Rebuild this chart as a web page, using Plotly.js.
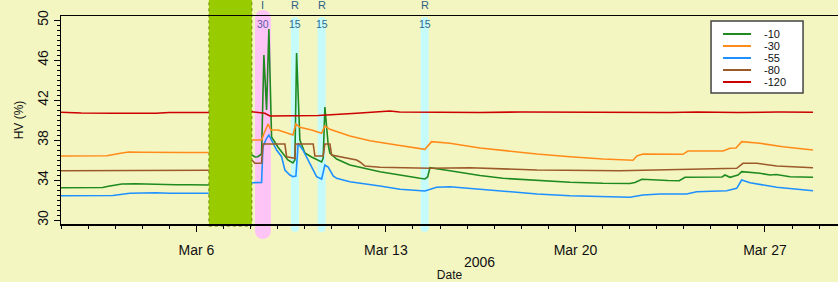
<!DOCTYPE html>
<html>
<head>
<meta charset="utf-8">
<script src="https://cdn.plot.ly/plotly-3.0.1.min.js"></script>
<style>html,body{margin:0;padding:0;background:#F4F6C1;}#chart{width:838px;height:282px;}</style>
</head>
<body>
<div id="chart"></div>
<script>
// ---- data (HV %, by date) ----
const seriesNames = ["-10", "-30", "-55", "-80", "-120"];

const t10 = ["2006-03-01 00:00","2006-03-01 12:00","2006-03-02 13:00","2006-03-02 18:00","2006-03-03 06:00","2006-03-03 18:00","2006-03-04 06:00","2006-03-04 18:00","2006-03-05 06:00","2006-03-05 18:00","2006-03-06 11:00","2006-03-07 00:00",
 "2006-03-08 01:12","2006-03-08 04:00","2006-03-08 06:30","2006-03-08 09:48","2006-03-08 11:50","2006-03-08 14:14","2006-03-08 16:16","2006-03-08 18:40","2006-03-09 00:16","2006-03-09 09:07","2006-03-09 13:33","2006-03-09 15:20","2006-03-09 16:50","2006-03-09 19:45","2006-03-10 00:11","2006-03-10 06:08","2006-03-10 15:00","2006-03-10 16:25","2006-03-10 17:55","2006-03-10 20:51","2006-03-10 22:22","2006-03-11 04:18","2006-03-11 16:06","2006-03-12 18:42","2006-03-14 06:10","2006-03-14 10:36","2006-03-14 13:00","2006-03-14 15:02","2006-03-15 08:46","2006-03-16 11:21","2006-03-17 07:45","2006-03-18 13:54","2006-03-19 19:09","2006-03-21 00:24","2006-03-22 00:20","2006-03-22 04:46","2006-03-22 10:58","2006-03-23 10:02","2006-03-23 20:00","2006-03-24 01:06","2006-03-25 10:00","2006-03-25 12:33","2006-03-25 17:00","2006-03-26 00:06","2006-03-26 03:23","2006-03-26 19:37","2006-03-27 04:29","2006-03-27 10:00","2006-03-27 22:12","2006-03-28 18:36"];
const v10 = [33.23,33.22,33.25,33.38,33.6,33.63,33.58,33.6,33.53,33.53,33.5,null,
 36.5,36.3,36.33,36.6,46.5,41.0,49.1,38.3,37.3,36.0,35.7,36.0,46.7,38.0,36.7,36.3,35.8,36.2,41.3,37.5,36.7,36.1,35.5,34.83,34.17,34.1,34.3,35.23,34.93,34.45,34.17,33.93,33.77,33.67,33.65,33.75,34.07,33.95,33.93,34.27,34.3,34.5,34.27,34.5,34.83,34.67,34.5,34.55,34.33,34.27];

const t30 = ["2006-03-01 00:00","2006-03-02 00:00","2006-03-02 16:40","2006-03-03 06:00","2006-03-03 12:00","2006-03-04 00:00","2006-03-04 18:00","2006-03-05 12:00","2006-03-06 11:00","2006-03-07 00:00",
 "2006-03-08 01:12","2006-03-08 09:48","2006-03-08 12:00","2006-03-08 15:39","2006-03-08 18:03","2006-03-09 00:16","2006-03-09 06:27","2006-03-09 13:33","2006-03-09 16:13","2006-03-09 19:45","2006-03-10 06:08","2006-03-10 15:00","2006-03-10 17:55","2006-03-10 22:22","2006-03-11 16:06","2006-03-12 09:50","2006-03-13 09:30","2006-03-14 10:36","2006-03-14 16:32","2006-03-15 08:46","2006-03-16 11:21","2006-03-17 07:45","2006-03-18 13:54","2006-03-19 19:09","2006-03-21 00:24","2006-03-22 03:00","2006-03-22 06:33","2006-03-22 11:51","2006-03-23 23:20","2006-03-24 03:45","2006-03-25 10:47","2006-03-25 17:00","2006-03-25 22:19","2006-03-26 03:23","2006-03-26 19:37","2006-03-27 16:00","2006-03-28 18:36"];
const v30 = [36.4,36.38,36.42,36.7,36.8,36.78,36.8,36.75,36.75,null,
 38.0,38.0,38.67,39.6,39.0,39.0,38.77,38.5,39.6,39.27,39.0,38.67,39.4,39.07,38.4,37.93,37.5,37.07,37.83,37.67,37.2,36.93,36.6,36.33,36.1,35.97,36.4,36.6,36.57,36.9,36.9,37.17,37.2,37.83,37.67,37.33,37.0];

const t55 = ["2006-03-01 00:00","2006-03-02 22:00","2006-03-03 13:00","2006-03-04 00:00","2006-03-04 12:00","2006-03-05 00:00","2006-03-06 11:00","2006-03-07 00:00",
 "2006-03-08 01:12","2006-03-08 09:48","2006-03-08 11:00","2006-03-08 14:14","2006-03-08 16:16","2006-03-08 18:40","2006-03-08 23:06","2006-03-09 03:32","2006-03-09 06:27","2006-03-09 10:54","2006-03-09 13:33","2006-03-09 16:13","2006-03-09 18:15","2006-03-09 22:25","2006-03-10 04:38","2006-03-10 10:34","2006-03-10 15:00","2006-03-10 17:55","2006-03-10 20:51","2006-03-11 01:17","2006-03-11 04:18","2006-03-11 16:06","2006-03-12 18:42","2006-03-13 12:26","2006-03-14 10:36","2006-03-14 20:58","2006-03-15 08:46","2006-03-16 11:21","2006-03-17 07:45","2006-03-18 13:54","2006-03-19 19:09","2006-03-21 15:28","2006-03-22 00:20","2006-03-22 11:51","2006-03-23 02:56","2006-03-24 02:36","2006-03-24 11:28","2006-03-25 14:04","2006-03-25 22:57","2006-03-26 03:23","2006-03-26 10:45","2006-03-27 10:25","2006-03-28 18:36"];
const v55 = [32.43,32.45,32.67,32.7,32.72,32.67,32.67,null,
 33.73,33.75,37.33,38.17,38.5,38.0,37.0,36.33,35.0,34.5,34.33,34.4,37.67,37.0,35.67,34.33,34.1,35.5,35.3,34.4,34.17,33.83,33.4,33.07,32.9,33.27,33.33,33.07,32.9,32.6,32.43,32.33,32.27,32.5,32.6,32.6,32.83,32.93,33.17,34.0,33.73,33.27,32.93];

const t80 = ["2006-03-01 00:00","2006-03-03 12:00","2006-03-04 12:00","2006-03-05 12:00","2006-03-06 11:00","2006-03-07 00:00",
 "2006-03-08 01:12","2006-03-08 03:52","2006-03-08 08:18","2006-03-08 09:48","2006-03-08 11:00","2006-03-09 06:27","2006-03-09 07:58","2006-03-09 13:33","2006-03-09 15:20","2006-03-09 15:57","2006-03-10 07:33","2006-03-10 09:03","2006-03-10 16:25","2006-03-10 17:55","2006-03-10 22:22","2006-03-10 23:52","2006-03-11 16:06","2006-03-11 22:02","2006-03-12 00:58","2006-03-12 05:24","2006-03-12 18:42","2006-03-14 15:02","2006-03-16 02:30","2006-03-18 13:54","2006-03-21 15:28","2006-03-22 18:04","2006-03-24 23:15","2006-03-25 22:57","2006-03-26 04:32","2006-03-26 16:41","2006-03-27 10:25","2006-03-28 18:36"];
const v80 = [34.93,34.93,34.97,35.0,34.97,null,
 36.0,35.67,35.67,35.7,37.6,37.6,36.33,36.17,36.17,37.6,37.6,36.4,36.4,37.6,37.6,36.5,36.17,36.0,35.8,35.4,35.27,35.17,35.23,35.0,34.93,35.0,35.1,35.17,35.67,35.67,35.4,35.23];

const t120 = ["2006-03-01 00:00","2006-03-01 18:00","2006-03-03 00:00","2006-03-04 12:00","2006-03-05 00:00","2006-03-05 12:00","2006-03-06 11:00","2006-03-07 00:00",
 "2006-03-08 01:12","2006-03-08 06:00","2006-03-08 12:43","2006-03-08 17:10","2006-03-09 12:00","2006-03-10 12:00","2006-03-11 22:00","2006-03-12 18:00","2006-03-13 03:33","2006-03-13 12:00","2006-03-14 08:50","2006-03-16 11:21","2006-03-18 00:00","2006-03-20 00:00","2006-03-22 00:00","2006-03-23 12:00","2006-03-24 12:00","2006-03-26 00:00","2006-03-27 12:00","2006-03-28 18:36"];
const v120 = [40.77,40.7,40.67,40.67,40.75,40.77,40.75,null,
 40.83,40.75,40.67,40.4,40.4,40.45,40.67,40.8,40.9,40.8,40.77,40.75,40.8,40.77,40.78,40.75,40.8,40.75,40.8,40.78];

// events: irrigation (I) and rain (R) with amounts
const gapStart = "2006-03-06 11:05", gapEnd = "2006-03-08 01:12";
const eventTimes = ["2006-03-08 10:58", "2006-03-09 15:20", "2006-03-10 15:00", "2006-03-14 10:20"];
const eventTypes = ["I", "R", "R", "R"];
const eventAmounts = ["30", "15", "15", "15"];

const colors = ["#1F8A1F", "#FF8C1A", "#1E90FF", "#9C5A2A", "#CC0000"];
const xs = [t10, t30, t55, t80, t120];
const ys = [v10, v30, v55, v80, v120];

const traces = seriesNames.map((n, i) => ({
  type: "scatter", mode: "lines", name: n, x: xs[i], y: ys[i],
  connectgaps: false, line: {color: colors[i], width: 1.6}, showlegend: false
}));

const shapes = [{
  type: "rect", xref: "x", yref: "paper", x0: gapStart, x1: gapEnd, y0: -0.01, y1: 1.1,
  fillcolor: "#99CC00", line: {color: "#6E8F00", width: 1, dash: "dot"}, layer: "below"
}];
const annotations = [];
eventTimes.forEach((t, i) => {
  const isI = eventTypes[i] === "I";
  const half = isI ? 8 : 4;
  const top = isI ? 0.9904 : 0.9760;   // top cap centre (paper)
  const bot = isI ? -0.0337 : -0.0192; // bottom cap centre (paper)
  const fill = isI ? "#FFC4F6" : "#C6FBFB";
  shapes.push({type: "rect", xref: "x", yref: "paper", xsizemode: "pixel", xanchor: t,
    x0: -half, x1: half, y0: bot, y1: top, fillcolor: fill, line: {width: 0}, layer: "below"});
  [top, bot].forEach(yc => shapes.push({type: "circle", xref: "x", yref: "paper",
    xsizemode: "pixel", ysizemode: "pixel", xanchor: t, yanchor: yc,
    x0: -half, x1: half, y0: -half, y1: half, fillcolor: fill, line: {width: 0}, layer: "below"}));
  annotations.push({xref: "x", yref: "paper", x: t, y: 1.0505, text: eventTypes[i], showarrow: false,
    font: {family: "Liberation Sans, Arial", size: 11, color: "#2F5F8A"}, yanchor: "middle"});
  annotations.push({xref: "x", yref: "paper", x: t, y: 0.962, text: eventAmounts[i], showarrow: false,
    font: {family: "Liberation Sans, Arial", size: 10.5, color: isI ? "#5A5AA8" : "#2F6A8F"}, yanchor: "middle"});
});
annotations.push({xref: "paper", yref: "paper", x: 0.539, y: -0.183, text: "2006", showarrow: false,
  font: {family: "Liberation Sans, Arial", size: 14, color: "#111"}, yanchor: "middle"});

// compact legend box (drawn in paper coordinates)
shapes.push({type: "rect", xref: "paper", yref: "paper", x0: 0.8366, x1: 0.955, y0: 0.6298, y1: 0.976,
  fillcolor: "#FFFFFF", line: {color: "#444", width: 1.5}, layer: "above"});
seriesNames.forEach((n, i) => {
  const yy = 0.9135 - i * 0.0577;
  shapes.push({type: "line", xref: "paper", yref: "paper", x0: 0.852, x1: 0.888, y0: yy, y1: yy,
    line: {color: colors[i], width: 2}, layer: "above"});
  annotations.push({xref: "paper", yref: "paper", x: 0.9022, y: yy, text: n, showarrow: false,
    xanchor: "left", yanchor: "middle", font: {family: "Liberation Sans, Arial", size: 11, color: "#111"}});
});

const layout = {
  width: 838, height: 282,
  margin: {l: 61, r: 0, t: 16, b: 58},
  paper_bgcolor: "#F4F6C1", plot_bgcolor: "#F4F6C1",
  font: {family: "Liberation Sans, Arial", color: "#111"},
  showlegend: false,
  xaxis: {
    type: "date", range: ["2006-03-01 00:00", "2006-03-29 16:45"],
    tickmode: "linear", tick0: "2006-03-06", dtick: 7 * 86400000, tickformat: "%b %-d",
    ticks: "outside", ticklen: 6, tickwidth: 1, tickcolor: "#000", ticklabelstandoff: 7,
    minor: {dtick: 86400000, ticks: "outside", ticklen: 3.5, tickcolor: "#000", tickwidth: 1},
    showline: true, linecolor: "#000", linewidth: 1.5, mirror: true,
    showgrid: false, zeroline: false, automargin: false,
    tickfont: {size: 14, color: "#111"},
    title: {text: "Date", font: {size: 12, color: "#111"}, standoff: 19}
  },
  yaxis: {
    range: [29.6, 50.4], tickmode: "linear", tick0: 30, dtick: 4, tickangle: -90,
    ticks: "outside", ticklen: 6, tickwidth: 1, tickcolor: "#000",
    minor: {dtick: 0.5, ticks: "outside", ticklen: 3, tickcolor: "#000", tickwidth: 1},
    showline: true, linecolor: "#000", linewidth: 1.5, mirror: false,
    showgrid: false, zeroline: false, automargin: false,
    tickfont: {size: 14, color: "#111"},
    title: {text: "HV (%)", font: {size: 12, color: "#111"}, standoff: 8}
  },
  shapes: shapes,
  annotations: annotations
};

Plotly.newPlot("chart", traces, layout, {displayModeBar: false, staticPlot: true});
</script>
</body>
</html>
